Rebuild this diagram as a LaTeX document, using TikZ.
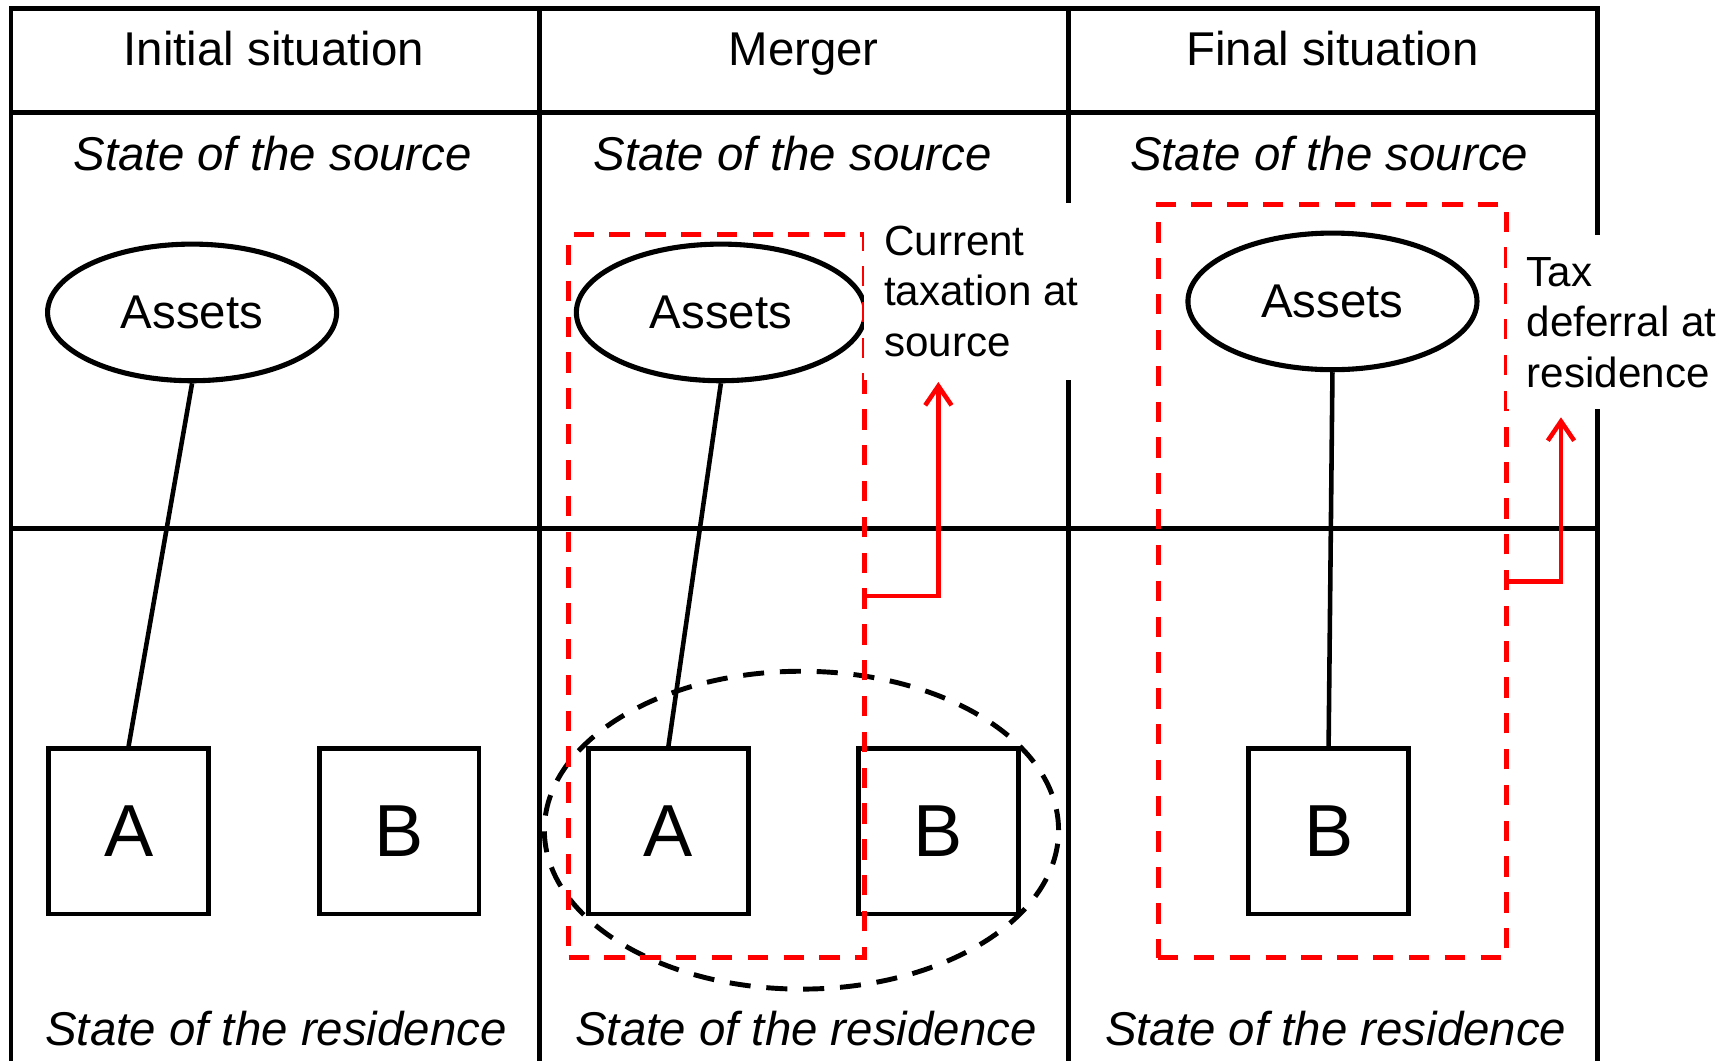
\documentclass[tikz,border=0pt]{standalone}
\usepackage{fontspec}
\setmainfont{Liberation Sans}
\usetikzlibrary{arrows.meta,shapes.geometric}

\begin{document}
\begin{tikzpicture}[x=0.01104cm,y=-0.01104cm,
  gridline/.style={line width=1.35pt},
  bubble/.style={draw,line width=1.45pt,ellipse,inner sep=0pt,minimum width=82.3pt,minimum height=38.9pt,font=\fontsize{13.5}{16}\selectfont},
  entity/.style={draw,fill=white,line width=1.4pt,inner sep=0pt,minimum width=45.5pt,minimum height=47.1pt,font=\fontsize{21}{25}\selectfont},
  link/.style={line width=1.3pt},
  heading/.style={anchor=base,font=\fontsize{13.5}{16}\selectfont},
  statelabel/.style={anchor=base,font=\fontsize{13.5}{16}\selectfont\itshape},
  redframe/.style={draw=red,line width=1.45pt,dash pattern=on 5.8pt off 4.4pt,inner sep=0pt},
  mergering/.style={draw,ellipse,line width=1.4pt,dash pattern=on 6pt off 4.5pt,inner sep=0pt,minimum width=146.4pt,minimum height=90.5pt},
  note/.style={fill=white,inner sep=0pt,align=left,font=\fontsize{12}{14.4}\selectfont},
  redarrow/.style={draw=red,line width=1.3pt,-{Straight Barb[length=5.5pt,width=7.5pt]}}
]
\useasboundingbox (0,0) rectangle (1568,961);

% table grid
\draw[gridline] (10,975) -- (10,8) -- (1447,8) -- (1447,975);
\draw[gridline] (489,8) -- (489,975);
\draw[gridline] (968,8) -- (968,975);
\draw[gridline] (10,102) -- (1447,102);
\draw[gridline] (10,479) -- (1447,479);

% column headings
\node[heading] (h1) at (248,59) {Initial situation};
\node[heading] (h2) at (728,59) {Merger};
\node[heading] (h3) at (1207,59) {Final situation};

% states
\node[statelabel] (src1) at (247,154) {State of the source};
\node[statelabel] (src2) at (718,154) {State of the source};
\node[statelabel] (src3) at (1204,154) {State of the source};
\node[statelabel] (res1) at (250,947) {State of the residence};
\node[statelabel] (res2) at (730,947) {State of the residence};
\node[statelabel] (res3) at (1210,947) {State of the residence};

% assets
\node[bubble] (as1) at (174,283) {Assets};
\node[bubble] (as2) at (653,283) {Assets};
\node[bubble] (as3) at (1207,273) {Assets};

% companies
\node[entity] (a1) at (116.5,753) {A};
\node[entity] (b1) at (361.5,753) {B};
\node[entity] (a2) at (605.5,753) {A};
\node[entity] (b2) at (850,753) {B};
\node[entity] (b3) at (1203.5,753) {B};

% ownership links
\draw[link] (as1.south) -- (a1.north);
\draw[link] (as2.south) -- (a2.north);
\draw[link] (as3.south) -- (b3.north);

% merging companies
\node[mergering] (ring) at (726,752) {};

% taxing perimeters
\node[redframe,minimum width=84.2pt,minimum height=206pt] (srcframe) at (649,540) {};
\node[redframe,minimum width=99.3pt,minimum height=214.5pt] (resframe) at (1207,526.5) {};

% explanatory notes
\node[note,minimum width=66.6pt,minimum height=50.3pt] (taxnote) at (889,264) {Current\\taxation at\\source};
\node[note,minimum width=65.3pt,minimum height=49.6pt] (defnote) at (1469,292) {Tax\\deferral at\\residence};

% arrows to the notes
\coordinate (tipA) at (850,346);
\coordinate (tipB) at (1414,378);
\draw[redarrow] (srcframe.east) -| (tipA);
\draw[redarrow] (resframe.east) -| (tipB);
\end{tikzpicture}
\end{document}
